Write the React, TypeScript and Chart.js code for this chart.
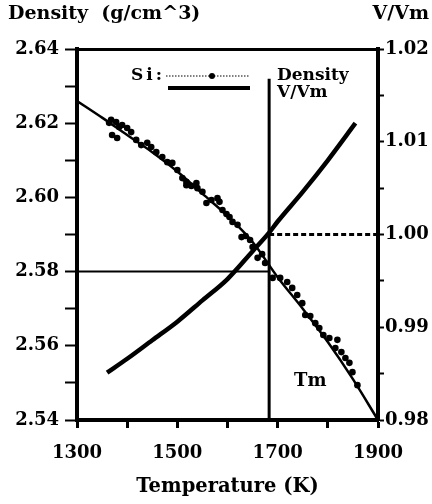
import React, { useEffect, useRef } from 'react';
import { Chart, registerables } from 'chart.js';

Chart.register(...registerables);

// ---- data ----
const TEMP_MIN = 1300;
const TEMP_MAX = 1900;
const TM = 1683; // melting point of Si (K)

const densityTemps = [
  1364, 1368, 1370, 1378, 1380, 1384, 1390, 1400, 1408, 1418, 1428, 1440, 1448,
  1458, 1470, 1480, 1490, 1500, 1510, 1518, 1518, 1528, 1538, 1540, 1550, 1558,
  1568, 1580, 1584, 1590, 1598, 1604, 1610, 1620, 1628, 1636, 1645, 1650, 1660,
  1669, 1675, 1690, 1705, 1719, 1729, 1739, 1749, 1755, 1765, 1775, 1783, 1791,
  1803, 1815, 1819, 1827, 1835, 1843, 1849, 1859,
];
const densityValues = [
  2.6201, 2.6209, 2.6168, 2.6203, 2.616, 2.619, 2.6195, 2.6187, 2.6176, 2.6155,
  2.6141, 2.6147, 2.6136, 2.6122, 2.6109, 2.6095, 2.6093, 2.6074, 2.6052, 2.6042,
  2.6033, 2.6031, 2.6039, 2.6025, 2.6015, 2.5985, 2.5993, 2.5998, 2.5988, 2.5966,
  2.5955, 2.5947, 2.5934, 2.5926, 2.5893, 2.5896, 2.5885, 2.5866, 2.5837, 2.5847,
  2.5823, 2.5783, 2.5783, 2.5772, 2.5756, 2.5737, 2.5715, 2.5683, 2.568, 2.5661,
  2.5648, 2.5629, 2.5621, 2.5594, 2.5616, 2.5583, 2.5567, 2.5554, 2.5529, 2.5494,
];

const fitTemps = [1300, 1350, 1400, 1450, 1500, 1550, 1600, 1650, 1700, 1750, 1800, 1850, 1900];
const fitValues = [2.626, 2.6215, 2.6168, 2.6122, 2.607, 2.601, 2.595, 2.588, 2.5785, 2.570, 2.561, 2.551, 2.540];

const vTemps = [1360, 1400, 1450, 1500, 1550, 1600, 1650, 1683, 1700, 1750, 1800, 1855];
const vValues = [0.9851, 0.9866, 0.9886, 0.9906, 0.9929, 0.9952, 0.9982, 1.0002, 1.0014, 1.0046, 1.008, 1.012];

const TM_LINE_TOP = 2.632;
const SOLID_REF_DENSITY = 2.58;
const LIQUID_REF_V = 1.0;

const xTickLabels = [1300, 1500, 1700, 1900];
const yLeftTickLabels = [2.54, 2.56, 2.58, 2.6, 2.62, 2.64];
const yRightTickLabels = [0.98, 0.99, 1.0, 1.01, 1.02];

const FONT = '"DejaVu Serif", serif';

function spacedText(ctx: CanvasRenderingContext2D, text: string, x: number, y: number, gap: number) {
  let cx = x;
  for (const ch of text) {
    ctx.fillText(ch, cx, y);
    cx += ctx.measureText(ch).width + gap;
  }
}

const textPlugin = {
  id: 'figureText',
  afterDraw(chart: any) {
    const ctx = chart.ctx as CanvasRenderingContext2D;
    const x = chart.scales.x;
    const y = chart.scales.y;
    ctx.save();
    ctx.fillStyle = '#000';
    ctx.textBaseline = 'alphabetic';
    // axis titles at top
    ctx.font = `bold 19px ${FONT}`;
    ctx.textAlign = 'left';
    ctx.fillText('Density  (g/cm^3)', 8, 19);
    ctx.textAlign = 'right';
    ctx.fillText('V/Vm', 429, 19);

    // legend
    ctx.font = `bold 17px ${FONT}`;
    ctx.textAlign = 'left';
    spacedText(ctx, 'Si:', 131, 80, 3);
    ctx.fillText('Density', 277, 80);
    ctx.fillText('V/Vm', 277, 97);
    ctx.strokeStyle = '#000';
    ctx.lineWidth = 1.2;
    ctx.setLineDash([1.5, 1.5]);
    ctx.beginPath();
    ctx.moveTo(166, 76);
    ctx.lineTo(250, 76);
    ctx.stroke();
    ctx.setLineDash([]);
    ctx.beginPath();
    ctx.arc(212, 76, 3, 0, Math.PI * 2);
    ctx.fill();
    ctx.lineWidth = 4;
    ctx.beginPath();
    ctx.moveTo(168, 88);
    ctx.lineTo(250, 88);
    ctx.stroke();

    // Tm label
    ctx.font = `bold 18px ${FONT}`;
    ctx.textAlign = 'center';
    ctx.fillText('Tm', x.getPixelForValue(1765), y.getPixelForValue(2.5492));
    ctx.restore();
  },
};

function near(list: number[], v: number) {
  return list.find((l) => Math.abs(l - v) < 1e-6);
}

export default function App() {
  const ref = useRef<HTMLCanvasElement>(null);

  useEffect(() => {
    if (!ref.current) return;
    const tickFont = { family: FONT, size: 18, weight: 'bold' as const };
    const chart = new Chart(ref.current, {
      type: 'scatter',
      data: {
        datasets: [
          {
            label: 'Density data',
            data: densityTemps.map((t, i) => ({ x: t, y: densityValues[i] })),
            yAxisID: 'y',
            showLine: false,
            pointRadius: 3.3,
            pointBackgroundColor: '#000',
            pointBorderColor: '#000',
            pointBorderWidth: 0,
          },
          {
            label: 'Density',
            data: fitTemps.map((t, i) => ({ x: t, y: fitValues[i] })),
            yAxisID: 'y',
            showLine: true,
            pointRadius: 0,
            borderColor: '#000',
            borderWidth: 2.5,
            cubicInterpolationMode: 'monotone',
          },
          {
            label: 'V/Vm',
            data: vTemps.map((t, i) => ({ x: t, y: vValues[i] })),
            yAxisID: 'y2',
            showLine: true,
            pointRadius: 0,
            borderColor: '#000',
            borderWidth: 4.5,
            cubicInterpolationMode: 'monotone',
          },
          {
            label: 'Tm',
            data: [
              { x: TM, y: 2.54 },
              { x: TM, y: TM_LINE_TOP },
            ],
            yAxisID: 'y',
            showLine: true,
            pointRadius: 0,
            borderColor: '#000',
            borderWidth: 3,
          },
          {
            label: 'solid ref',
            data: [
              { x: TEMP_MIN, y: SOLID_REF_DENSITY },
              { x: TM, y: SOLID_REF_DENSITY },
            ],
            yAxisID: 'y',
            showLine: true,
            pointRadius: 0,
            borderColor: '#000',
            borderWidth: 2,
          },
          {
            label: 'liquid ref',
            data: [
              { x: TM, y: LIQUID_REF_V },
              { x: TEMP_MAX, y: LIQUID_REF_V },
            ],
            yAxisID: 'y2',
            showLine: true,
            pointRadius: 0,
            borderColor: '#000',
            borderWidth: 3,
            borderDash: [5, 3],
          },
        ],
      },
      options: {
        animation: false,
        responsive: false,
        events: [],
        layout: { padding: 0 },
        plugins: { legend: { display: false }, tooltip: { enabled: false } },
        scales: {
          x: {
            type: 'linear',
            position: 'bottom',
            min: TEMP_MIN,
            max: TEMP_MAX,
            ticks: {
              stepSize: 100,
              autoSkip: false,
              maxRotation: 0,
              color: '#000',
              font: tickFont,
              padding: 15,
              callback: (v: any) => (near(xTickLabels, Number(v)) !== undefined ? String(v) : ''),
            },
            grid: { drawOnChartArea: false, drawTicks: true, tickLength: 8, tickWidth: 3, tickColor: '#000' },
            border: { display: true, color: '#000', width: 4 },
            title: {
              display: true,
              text: 'Temperature (K)',
              color: '#000',
              font: { family: FONT, size: 19.5, weight: 'bold' },
              padding: { top: 0, bottom: 5 },
            },
            afterFit: (s: any) => {
              s.height = 84;
            },
          },
          x2: {
            type: 'linear',
            position: 'top',
            min: TEMP_MIN,
            max: TEMP_MAX,
            ticks: { display: false },
            grid: { drawOnChartArea: false, drawTicks: false },
            border: { display: true, color: '#000', width: 3 },
            afterFit: (s: any) => {
              s.height = 49;
            },
          },
          y: {
            type: 'linear',
            position: 'left',
            min: 2.54,
            max: 2.64,
            ticks: {
              stepSize: 0.01,
              autoSkip: false,
              color: '#000',
              font: tickFont,
              padding: 6,
              callback: (v: any) => {
                const l = near(yLeftTickLabels, Number(v));
                return l !== undefined ? l.toFixed(2) : '';
              },
            },
            grid: { drawOnChartArea: false, drawTicks: true, tickLength: 12, tickWidth: 2, tickColor: '#000' },
            border: { display: true, color: '#000', width: 4 },
            afterFit: (s: any) => {
              s.width = 77;
            },
          },
          y2: {
            type: 'linear',
            position: 'right',
            min: 0.98,
            max: 1.02,
            ticks: {
              stepSize: 0.005,
              autoSkip: false,
              color: '#000',
              font: tickFont,
              padding: 1,
              callback: (v: any) => {
                const l = near(yRightTickLabels, Number(v));
                return l !== undefined ? l.toFixed(2) : '';
              },
            },
            grid: { drawOnChartArea: false, drawTicks: true, tickLength: 6, tickWidth: 2, tickColor: '#000' },
            border: { display: true, color: '#000', width: 4 },
            afterFit: (s: any) => {
              s.width = 54;
            },
          },
        },
      } as any,
      plugins: [textPlugin],
    });
    return () => chart.destroy();
  }, []);

  return (
    <div style={{ position: 'absolute', left: 0, top: 0, width: 432, height: 504, background: '#fff' }}>
      <canvas ref={ref} width={432} height={504} style={{ display: 'block' }} />
    </div>
  );
}
